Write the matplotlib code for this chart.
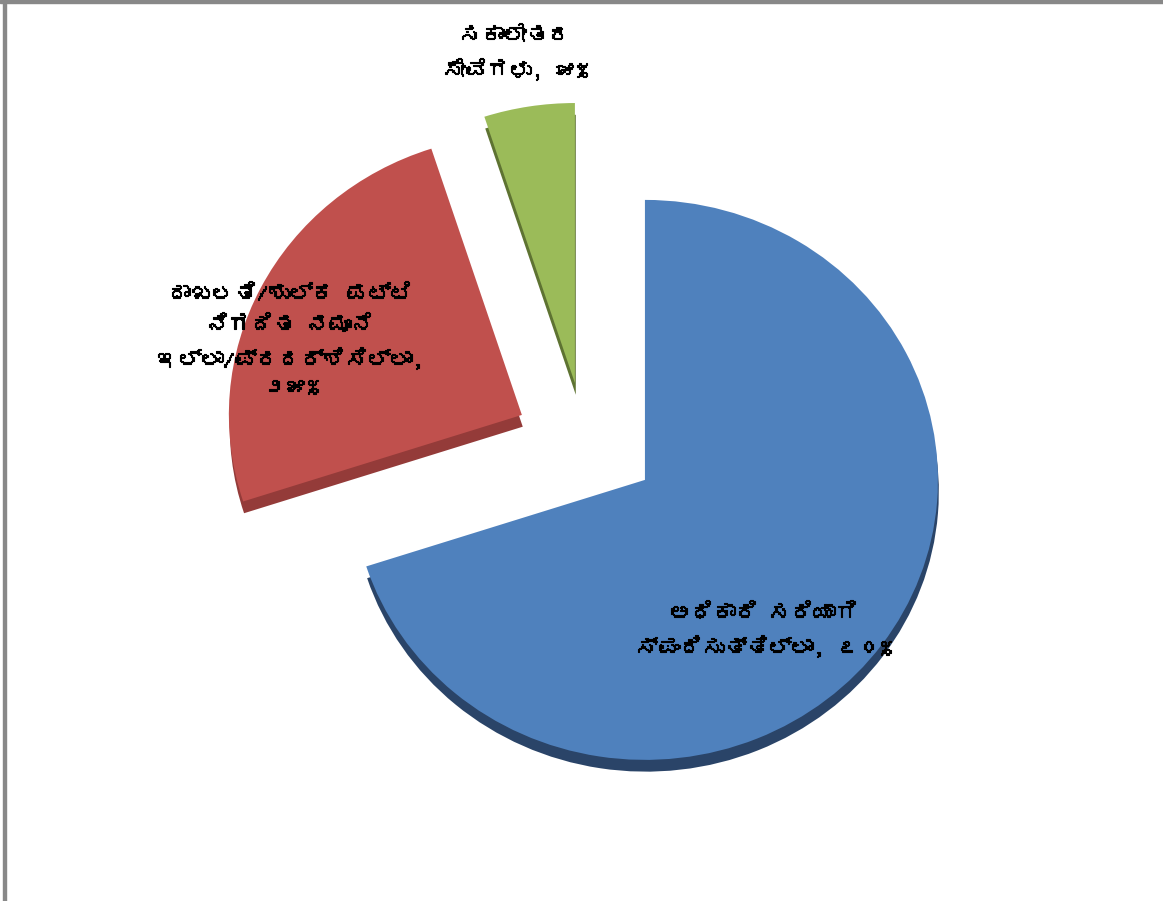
import numpy as np
import matplotlib.pyplot as plt
import matplotlib.patheffects as pe
from matplotlib import font_manager as fm
from matplotlib.ft2font import FT2Font
from matplotlib.patches import Rectangle

labels = ['ಅಧಿಕಾರಿ ಸರಿಯಾಗಿ\nಸ್ಪಂದಿಸುತ್ತಿಲ್ಲಾ, ೭೦%',
          'ದಾಖಲತಿ/ಶುಲ್ಕ ಪಟ್ಟಿ\nನಿಗದಿತ ನಮೂನೆ\nಇಲ್ಲಾ/ಪ್ರದರ್ಶಿಸಿಲ್ಲಾ,\n೨೫%',
          'ಸಕಾಲೇತರ\nಸೇವೆಗಳು, ೫%']
values = [70, 25, 5]

colors = ['#4F81BD', '#C0504D', '#9BBB59']
dark = ['#2A4468', '#943B39', '#5E7332']
offsets = [(0.0, 0.0), (-0.42, 0.232), (-0.239, 0.346)]   # exploded slices
label_pos = [(0.403, -0.536), (-1.212, 0.50), (-0.444, 1.525)]


# look for an installed font that has Kannada glyphs
def kannada_family():
    for f in fm.fontManager.ttflist:
        try:
            if 0x0C85 in FT2Font(f.fname).get_charmap():
                return f.name
        except Exception:
            pass
    return None


kf = kannada_family()
fams = ([kf] if kf else []) + ['DejaVu Sans']

fig = plt.figure(figsize=(11.63, 9.01), dpi=100)
ax = fig.add_axes([0, 0, 1, 1])
ax.axis('off')

# shadow layer for 3d look
sh, _ = ax.pie(values, colors=dark, startangle=90, counterclock=False,
               radius=1.0, wedgeprops=dict(linewidth=0))
top, _ = ax.pie(values, colors=colors, startangle=90, counterclock=False,
                radius=1.0, wedgeprops=dict(linewidth=0))
for i in range(len(values)):
    cx, cy = offsets[i]
    sh[i].set_center((cx + 0.003, cy - 0.042))
    sh[i].set_zorder(1)
    top[i].set_center((cx, cy))
    top[i].set_zorder(2)

# slightly flattened pie like the excel 3d view
ax.set_aspect('auto')
ax.set_xlim(-2.201, 1.768)
ax.set_ylim(-1.504, 1.714)

for i in range(len(values)):
    ax.text(label_pos[i][0], label_pos[i][1], labels[i], ha='center',
            va='center', fontsize=16, fontweight='bold', zorder=5,
            linespacing=1.6, family=fams,
            path_effects=[pe.withStroke(linewidth=0.8, foreground='black')])

# grey frame at top and left
fig.patches.append(Rectangle((0, 0.9965), 1, 0.0035, transform=fig.transFigure,
                             color='#888888', zorder=10))
fig.patches.append(Rectangle((0.0026, 0), 0.0026, 1, transform=fig.transFigure,
                             color='#888888', zorder=10))

fig.savefig('out.png', dpi=100)
